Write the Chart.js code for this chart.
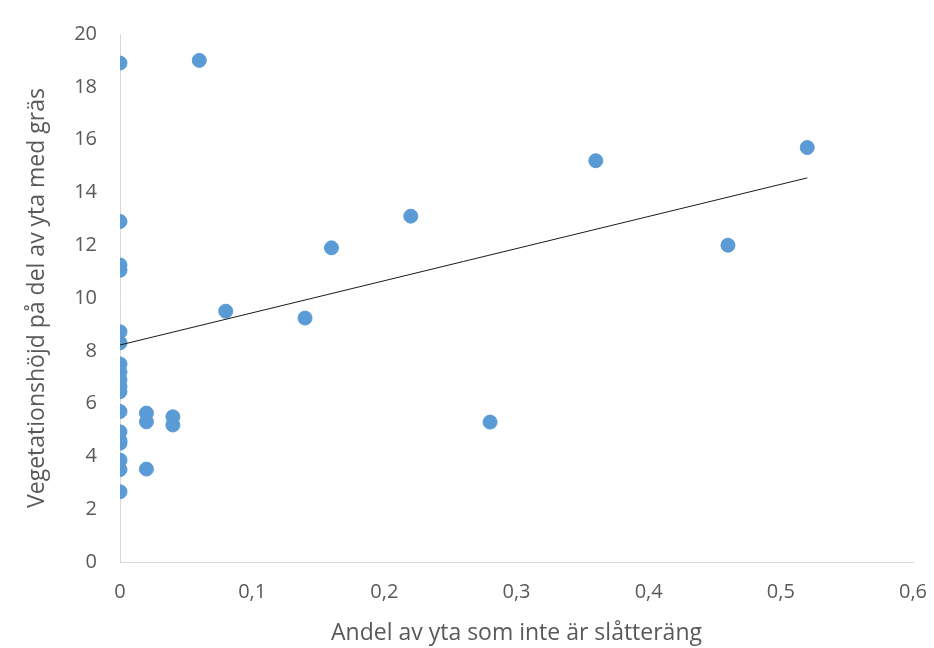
<!DOCTYPE html>
<html>
<head>
<meta charset="utf-8">
<script src="https://cdn.jsdelivr.net/npm/chart.js@4/dist/chart.umd.min.js"></script>
<style>
  html, body { margin: 0; padding: 0; background: #fff; }
  #wrap { width: 934px; height: 648px; }
</style>
</head>
<body>
<div id="wrap"><canvas id="c" width="934" height="648"></canvas></div>
<script>
// Share of area that is not hay meadow (x) and vegetation height on grassy part (y)
const shareNotMeadow = [
  0, 0.06, 0, 0, 0, 0, 0, 0, 0, 0, 0, 0, 0, 0, 0, 0, 0, 0, 0,
  0.02, 0.02, 0.02, 0.04, 0.04,
  0.08, 0.14, 0.16, 0.22, 0.28, 0.36, 0.46, 0.52
];
const vegetationHeight = [
  18.9, 19.0, 12.9, 11.25, 11.05, 8.72, 8.3, 7.5, 7.2, 6.9, 6.65, 6.45, 5.7, 4.93, 4.6, 4.5, 3.86, 3.5, 2.66,
  5.64, 5.31, 3.52, 5.5, 5.19,
  9.5, 9.24, 11.9, 13.1, 5.3, 15.2, 12.0, 15.7
];
const xTicks = [0, 0.1, 0.2, 0.3, 0.4, 0.5, 0.6];
const xTickLabels = ['0', '0,1', '0,2', '0,3', '0,4', '0,5', '0,6'];
const yTicks = [0, 2, 4, 6, 8, 10, 12, 14, 16, 18, 20];
// Linear trendline, start and end
const trendX = [0, 0.52];
const trendY = [8.22, 14.55];

const points = shareNotMeadow.map((x, i) => ({ x, y: vegetationHeight[i] }));
const trendPoints = trendX.map((x, i) => ({ x, y: trendY[i] }));

const font = "'Open Sans', sans-serif";
const textColor = '#595959';

new Chart(document.getElementById('c'), {
  type: 'scatter',
  data: {
    datasets: [
      {
        data: points,
        backgroundColor: '#5B9BD5',
        borderColor: '#5B9BD5',
        pointRadius: 7,
        pointHoverRadius: 7,
        order: 1
      },
      {
        type: 'line',
        data: trendPoints,
        borderColor: '#1a1a1a',
        borderWidth: 1,
        pointRadius: 0,
        fill: false,
        order: 0
      }
    ]
  },
  options: {
    responsive: false,
    animation: false,
    layout: { padding: { top: 34, right: 21, left: 0, bottom: 0 } },
    plugins: { legend: { display: false }, tooltip: { enabled: false } },
    scales: {
      x: {
        type: 'linear',
        min: 0, max: 0.6,
        afterBuildTicks: s => { s.ticks = xTicks.map(v => ({ value: v })); },
        afterFit: s => { s.height = 86; s.paddingLeft = 0; s.paddingRight = 0; },
        grid: { display: false },
        border: { display: true, color: '#D9D9D9', width: 1 },
        ticks: {
          padding: 10,
          color: textColor,
          font: { family: font, size: 20 },
          callback: v => xTickLabels[xTicks.indexOf(Math.round(v * 10) / 10)]
        },
        title: {
          display: true,
          text: 'Andel av yta som inte är slåtteräng',
          color: textColor,
          font: { family: font, size: 23 },
          padding: { top: 4, bottom: 1 }
        }
      },
      y: {
        type: 'linear',
        min: 0, max: 20,
        afterBuildTicks: s => { s.ticks = yTicks.map(v => ({ value: v })); },
        afterFit: s => { s.width = 120; },
        grid: { display: false },
        border: { display: true, color: '#D9D9D9', width: 1 },
        ticks: {
          padding: 15,
          color: textColor,
          font: { family: font, size: 20 }
        },
        title: {
          display: true,
          text: 'Vegetationshöjd på del av yta med gräs',
          color: textColor,
          font: { family: font, size: 23 },
          padding: { top: 24, bottom: 0 }
        }
      }
    }
  }
});
</script>
</body>
</html>
